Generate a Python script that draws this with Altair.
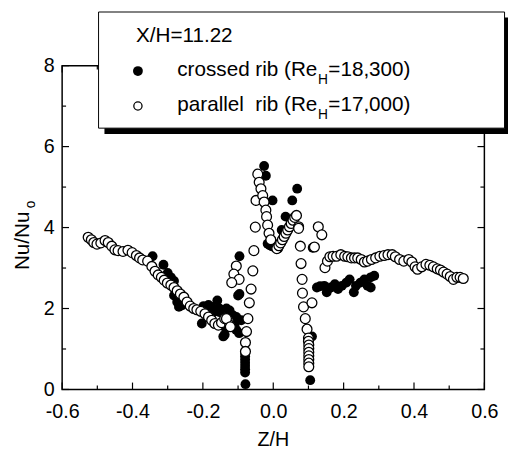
import altair as alt
import pandas as pd

# ---------------- data ----------------
# crossed rib (Re_H = 18,300) -- filled circles
crossed_z = [
    -0.343, -0.312, -0.300, -0.291, -0.282, -0.282, -0.270, -0.273, -0.268, -0.259, -0.248,
    -0.203, -0.198, -0.184, -0.175, -0.170, -0.159, -0.153, -0.152, -0.142, -0.138, -0.138,
    -0.133, -0.124, -0.114, -0.114, -0.110, -0.105, -0.105, -0.097, -0.091, -0.096,
    -0.096, -0.100,
    -0.080, -0.080, -0.080, -0.080, -0.080, -0.080, -0.080, -0.079,
    -0.026, -0.021, -0.002,
    -0.016, -0.010, -0.004, 0.002, 0.008, 0.014,
    0.024, 0.035, 0.054, 0.068,
    0.112, 0.110, 0.105,
    0.124, 0.133, 0.145, 0.152, 0.164, 0.175, 0.184, 0.195, 0.208, 0.217,
    0.229, 0.235, 0.248, 0.259, 0.268, 0.277, 0.277, 0.287,
]
crossed_nu = [
    3.29, 3.08, 2.88, 2.77, 2.68, 2.32, 2.30, 2.16, 2.04, 2.08, 2.16,
    1.63, 2.06, 2.09, 2.04, 1.91, 2.20, 2.00, 1.91, 1.31, 1.55, 1.35,
    2.00, 1.95, 1.83, 1.59, 1.59, 1.47, 1.79, 1.39, 1.71, 2.36,
    3.29, 2.32,
    0.90, 0.82, 0.74, 0.66, 0.58, 0.50, 0.42, 0.13,
    5.52, 5.28, 4.67,
    3.60, 3.56, 3.54, 3.52, 3.50, 3.48,
    3.94, 4.27, 4.67, 4.96,
    3.50, 1.31, 0.23,
    2.52, 2.55, 2.56, 2.40, 2.52, 2.60, 2.48, 2.56, 2.64, 2.72,
    2.40, 2.56, 2.64, 2.72, 2.56, 2.52, 2.77, 2.81,
]

# parallel rib (Re_H = 17,000) -- open circles
parallel_z = [
    -0.526, -0.517, -0.510, -0.501, -0.490, -0.478, -0.469, -0.459, -0.450, -0.441,
    -0.427, -0.413, -0.401, -0.389, -0.380, -0.371, -0.357, -0.345, -0.336, -0.327,
    -0.318, -0.310, -0.301, -0.291, -0.282, -0.273, -0.264, -0.254, -0.245, -0.236,
    -0.226, -0.217, -0.206, -0.194, -0.184, -0.175, -0.166, -0.156, -0.147, -0.138,
    -0.128, -0.124, -0.133, -0.122,
    -0.105, -0.112, -0.097, -0.118,
    -0.049, -0.051, -0.055, -0.058, -0.063, -0.068, -0.072, -0.076, -0.079, -0.079,
    -0.044, -0.040, -0.035, -0.030, -0.026, -0.021, -0.019, -0.016, -0.012, -0.007,
    0.010, 0.016, 0.021, 0.026, 0.031, 0.036, 0.041, 0.046, 0.051, 0.056, 0.061, 0.066,
    0.072, 0.072, 0.077, 0.079, 0.082, 0.083, 0.086, 0.091, 0.096, 0.100,
    0.100, 0.101, 0.101, 0.101, 0.101, 0.101, 0.101, 0.101,
    0.110, 0.117, 0.128, 0.138,
    0.147, 0.154, 0.161, 0.170, 0.180, 0.192, 0.203, 0.212, 0.222, 0.231,
    0.240, 0.250, 0.259, 0.268, 0.279, 0.291, 0.303, 0.315, 0.326, 0.338,
    0.347, 0.359, 0.371, 0.385, 0.394, 0.403, 0.410, 0.422, 0.434, 0.445,
    0.455, 0.466, 0.475, 0.484, 0.494, 0.503, 0.512, 0.522, 0.531, 0.540,
]
parallel_nu = [
    3.76, 3.70, 3.63, 3.59, 3.62, 3.68, 3.63, 3.54, 3.45, 3.43,
    3.41, 3.44, 3.38, 3.31, 3.25, 3.20, 3.17, 3.04, 2.92, 2.83,
    2.77, 2.70, 2.63, 2.58, 2.52, 2.44, 2.36, 2.28, 2.16, 2.06,
    2.00, 1.97, 1.93, 1.87, 1.79, 1.71, 1.63, 1.59, 1.65, 1.75,
    1.71, 1.59, 1.75, 1.55,
    3.05, 2.85, 2.72, 2.64,
    4.67, 4.01, 3.43, 2.93, 2.48, 2.14, 1.75, 1.43, 1.16, 0.94,
    5.32, 5.12, 4.96, 4.79, 4.63, 4.43, 4.27, 4.06, 3.86, 3.70,
    3.48, 3.55, 3.62, 3.70, 3.78, 3.86, 3.94, 4.02, 4.10, 4.18, 4.25, 4.30,
    4.02, 3.98, 3.54, 3.11, 2.72, 2.38, 2.04, 1.75, 1.49, 1.27,
    1.19, 1.10, 1.01, 0.92, 0.83, 0.74, 0.65, 0.56,
    2.14, 3.52, 4.02, 3.82,
    3.01, 3.17, 3.28, 3.29, 3.29, 3.33, 3.29, 3.28, 3.25, 3.25,
    3.25, 3.21, 3.15, 3.17, 3.21, 3.25, 3.29, 3.31, 3.33, 3.33,
    3.28, 3.21, 3.17, 3.21, 3.15, 3.03, 2.97, 3.03, 3.09, 3.07,
    3.03, 2.98, 2.95, 2.90, 2.85, 2.79, 2.72, 2.77, 2.77, 2.74,
]

x_major = [-0.6, -0.4, -0.2, 0.0, 0.2, 0.4, 0.6]
x_minor = [-0.5, -0.3, -0.1, 0.1, 0.3, 0.5]
y_major = [0, 2, 4, 6, 8]
y_minor = [1, 3, 5, 7]

legend_heading = "X/H=11.22"
legend_labels = [("crossed rib (Re", "H", "=18,300)"),
                 ("parallel\u00a0 rib (Re", "H", "=17,000)")]
x_title = "Z/H"
y_title = ("Nu/Nu", "o")

# ---------------- chart ----------------
W, H = 429, 329
FONT = "Liberation Sans"
xs = alt.Scale(domain=[-0.6, 0.6], nice=False, zero=False)
ys = alt.Scale(domain=[0, 8], nice=False, zero=False)

df_c = pd.DataFrame({"z": crossed_z, "nu": crossed_nu})
df_p = pd.DataFrame({"z": parallel_z, "nu": parallel_nu})

lab_expr = "datum.value < 0 ? '-' + format(-datum.value, '.1f') : format(datum.value, '.1f')"

xa = alt.Axis(values=x_major, labelExpr=lab_expr, ticks=False, tickSize=0, domain=False,
              grid=False, title=None, labelFontSize=20, labelPadding=12, labelFont=FONT,
              labelColor="black", labelFlush=False)
ya = alt.Axis(values=y_major, format="d", ticks=False, tickSize=0, domain=False, grid=False,
              title=None, labelFontSize=20, labelPadding=8, labelFont=FONT,
              labelColor="black", labelFlush=False)

MS = 100

filled = alt.Chart(df_c).mark_point(
    shape="circle", filled=True, color="black", size=MS, opacity=1
).encode(
    x=alt.X("z:Q", scale=xs, axis=xa),
    y=alt.Y("nu:Q", scale=ys, axis=ya),
)

opened = alt.Chart(df_p).mark_point(
    shape="circle", filled=True, fill="white", stroke="black", strokeWidth=1.3,
    size=MS, opacity=1
).encode(
    x=alt.X("z:Q", scale=xs, axis=xa),
    y=alt.Y("nu:Q", scale=ys, axis=ya),
)


def xticks(vals, length, side):
    y0, y1 = (H, H - length) if side == "bottom" else (0, length)
    return alt.Chart(pd.DataFrame({"z": vals})).mark_rule(
        color="black", strokeWidth=1.2).encode(
        x=alt.X("z:Q", scale=xs, axis=xa), y=alt.value(y0), y2=alt.value(y1))


def yticks(vals, length, side):
    x0, x1 = (0, length) if side == "left" else (W, W - length)
    return alt.Chart(pd.DataFrame({"nu": vals})).mark_rule(
        color="black", strokeWidth=1.2).encode(
        y=alt.Y("nu:Q", scale=ys, axis=ya), x=alt.value(x0), x2=alt.value(x1))


ticks = [
    xticks(x_major, 7, "bottom"), xticks(x_minor, 4, "bottom"),
    xticks(x_major, 7, "top"), xticks(x_minor, 4, "top"),
    yticks(y_major, 7, "left"), yticks(y_minor, 4, "left"),
    yticks(y_major, 7, "right"), yticks(y_minor, 4, "right"),
]

one = pd.DataFrame({"a": [0]})


def box(x0, x1, y0, y1, fill, stroke=None):
    kw = dict(fill=fill)
    if stroke:
        kw.update(stroke=stroke, strokeWidth=1)
    return alt.Chart(one).mark_rect(**kw).encode(
        x=alt.value(x0), x2=alt.value(x1), y=alt.value(y0), y2=alt.value(y1))


def txt(s, x, y, size=20, align="left", angle=0):
    kw = dict(text=s, font=FONT, fontSize=size, color="black", align=align,
              baseline="middle")
    if angle:
        kw["angle"] = angle
    return alt.Chart(one).mark_text(**kw).encode(x=alt.value(x), y=alt.value(y))


shadow = box(43, 460, -49, 69.5, "black")
legbox = box(37, 449.5, -54.5, 63.5, "white", "black")

LF = 21          # legend font size
SF = 14          # subscript font size
W1 = 6.779 * LF  # width of the text before the subscript (Arial metrics)
WH = 0.722 * SF
leg_items = [txt(legend_heading, 75, -30, size=LF)]
rows_y = [5, 40]
for (a, sub, b), yy in zip(legend_labels, rows_y):
    leg_items += [txt(a, 117, yy, size=LF),
                  txt(sub, 117 + W1 + 0.5, yy + 10, size=SF),
                  txt(b, 117 + W1 + WH + 1, yy, size=LF)]

sym_f = alt.Chart(one).mark_point(shape="circle", filled=True, color="black",
                                  size=MS, opacity=1).encode(
    x=alt.value(77), y=alt.value(5.5))
sym_o = alt.Chart(one).mark_point(shape="circle", filled=True, fill="white",
                                  stroke="black", strokeWidth=1.3, size=70,
                                  opacity=1).encode(
    x=alt.value(77), y=alt.value(41))

titles = [
    txt(x_title, W / 2, 380, size=20, align="center"),
    txt(y_title[0], -40, 178, size=21, align="center", angle=270),
    txt(y_title[1], -32, 141, size=14, align="center", angle=270),
]

chart = alt.layer(
    filled, opened, *ticks, shadow, legbox, *leg_items, sym_f, sym_o, *titles
).properties(
    width=W, height=H,
    background="white",
    autosize=alt.AutoSizeParams(type="none"),
    padding={"left": 55, "top": 55, "right": 24, "bottom": 62},
).configure_view(
    stroke="black", strokeWidth=1.5
)

chart.save("out.html", embed_options={"renderer": "svg", "actions": False})
